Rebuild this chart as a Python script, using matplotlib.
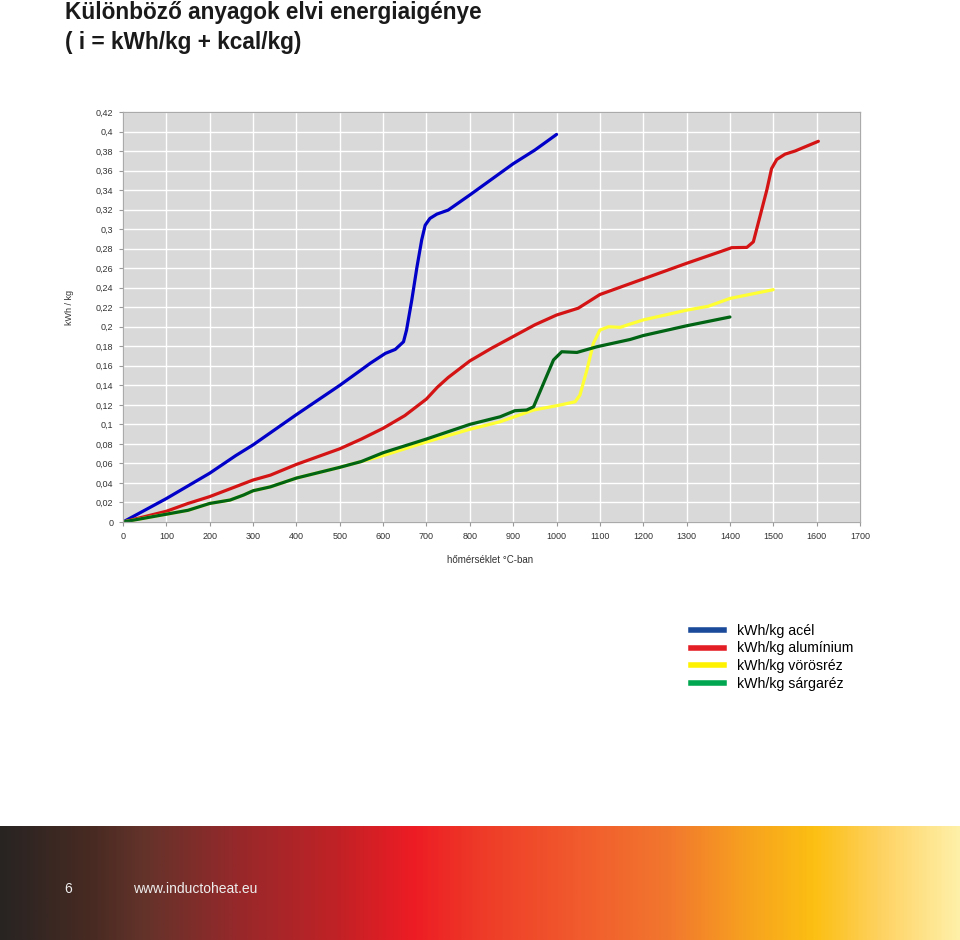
import matplotlib
matplotlib.use('Agg')
import matplotlib.pyplot as plt
import numpy as np
from matplotlib.colors import LinearSegmentedColormap
from matplotlib.lines import Line2D

plt.rcParams['font.family'] = ['Liberation Sans', 'DejaVu Sans']

# acél (steel)
acel_x = [0, 100, 200, 260, 300, 400, 500, 550, 570, 605, 628, 647, 654, 666, 678, 689, 697, 708, 724, 750, 800,
          850, 900, 950, 1000]
acel_y = [0, 0.024, 0.05, 0.068, 0.079, 0.11, 0.14, 0.156, 0.1625, 0.1727, 0.1768, 0.1846, 0.1966, 0.227, 0.261, 0.289,
          0.304, 0.311, 0.3154, 0.3195, 0.335, 0.351, 0.367, 0.381, 0.397]
# alumínium
alu_x = [0, 100, 150, 200, 300, 340, 400, 500, 550, 600, 650, 700, 725, 750, 800, 850, 900, 950, 1000, 1050, 1100,
         1200, 1300, 1377, 1404, 1439, 1454, 1469, 1485, 1496, 1508, 1527, 1550, 1604]
alu_y = [0, 0.011, 0.019, 0.026, 0.043, 0.048, 0.059, 0.075, 0.085, 0.096, 0.109, 0.126, 0.138, 0.148, 0.165, 0.178,
         0.19, 0.202, 0.212, 0.219, 0.233, 0.249, 0.265, 0.2768, 0.281, 0.2813, 0.287, 0.3126, 0.34, 0.362, 0.3714,
         0.3768, 0.380, 0.390]
# vörösréz (copper)
rez_x = [0, 100, 150, 200, 247, 278, 300, 340, 400, 500, 550, 600, 700, 800, 870, 947, 1008, 1043, 1054, 1070, 1085,
         1100, 1120, 1147, 1170, 1200, 1300, 1350, 1400, 1500]
rez_y = [0, 0.008, 0.012, 0.019, 0.0225, 0.0276, 0.032, 0.036, 0.045, 0.056, 0.062, 0.068, 0.082, 0.095, 0.1027,
         0.1147, 0.1198, 0.1232, 0.130, 0.1556, 0.183, 0.1966, 0.200, 0.1994, 0.2028, 0.207, 0.217, 0.221, 0.229, 0.238]
# sárgaréz (brass)
sarga_x = [0, 100, 150, 200, 247, 278, 300, 340, 400, 500, 550, 600, 700, 800, 870, 904, 931, 947, 970, 993, 1012,
           1047, 1093, 1170, 1200, 1300, 1400]
sarga_y = [0, 0.008, 0.012, 0.019, 0.0225, 0.0276, 0.032, 0.036, 0.045, 0.056, 0.062, 0.071, 0.085, 0.1, 0.1078,
           0.114, 0.1147, 0.118, 0.142, 0.166, 0.1744, 0.1737, 0.1795, 0.187, 0.191, 0.201, 0.21]

legend_labels = ['kWh/kg acél', 'kWh/kg alumínium', 'kWh/kg vörösréz', 'kWh/kg sárgaréz']
legend_colors = ['#1b4a9a', '#e31e24', '#fff200', '#00a650']

xticks = np.arange(0, 1701, 100)
yticks = np.arange(0, 0.4201, 0.02)

fig = plt.figure(figsize=(9.6, 9.4), dpi=100)
fig.patch.set_facecolor('white')

fig.text(65 / 960, 1 - 13 / 940, 'Különböző anyagok elvi energiaigénye', fontsize=16.3, fontweight='bold',
         color='#1a1a1a', va='center', ha='left')
fig.text(65 / 960, 1 - 43 / 940, '( i = kWh/kg + kcal/kg)', fontsize=16.3, fontweight='bold',
         color='#1a1a1a', va='center', ha='left')

ax = fig.add_axes([123 / 960, 1 - 522 / 940, (860 - 123) / 960, (522 - 112) / 940])
ax.set_facecolor('#d9d9d9')
style = dict(lw=2.3, solid_capstyle='round', solid_joinstyle='round')
ax.plot(acel_x, acel_y, color='#0000c8', **style)
ax.plot(alu_x, alu_y, color='#d41414', **style)
ax.plot(rez_x, rez_y, color='#ffff33', **style)
ax.plot(sarga_x, sarga_y, color='#006414', **style)

ax.set_xlim(0, 1700)
ax.set_ylim(0, 0.42)
ax.set_xticks(xticks)
ax.set_yticks(yticks)
ax.set_xticklabels([str(v) for v in xticks])
ax.set_yticklabels([('%g' % round(v, 2)).replace('.', ',') for v in yticks])
ax.grid(True, color='white', lw=1.0)
ax.set_axisbelow(True)
ax.tick_params(labelsize=6.5, colors='#999999', labelcolor='#333333', length=3, width=0.8, pad=4)
for s in ax.spines.values():
    s.set_color('#aaaaaa')
    s.set_linewidth(0.9)

fig.text(70 / 960, 1 - 307 / 940, 'kWh / kg', fontsize=6.5, color='#333333', rotation=90, va='center', ha='center')
fig.text(490 / 960, 1 - 560 / 940, 'hőmérséklet °C-ban', fontsize=7, color='#333333', va='center', ha='center')

handles = [Line2D([], [], color=c, lw=4) for c in legend_colors]
fig.legend(handles, legend_labels, loc='upper left', bbox_to_anchor=(685 / 960, 1 - 618 / 940), frameon=False,
           fontsize=10.2, handlelength=2.35, handletextpad=0.95, labelspacing=0.27, borderaxespad=0)

# gradient footer band
stops = [(0.0, '#282422'), (0.1, '#4a2b23'), (0.15, '#64332a'), (0.25, '#98282a'), (0.35, '#c02226'),
         (0.43, '#ed1c24'), (0.5, '#ee3a28'), (0.6, '#f15a2d'), (0.7, '#f2782e'), (0.78, '#f7a21f'),
         (0.85, '#fcbf12'), (0.92, '#fed262'), (1.0, '#fff0a8')]
cmap = LinearSegmentedColormap.from_list('band', stops)
bax = fig.add_axes([0, 0, 1, (940 - 826) / 940])
bax.imshow(np.linspace(0, 1, 512).reshape(1, -1), aspect='auto', cmap=cmap, extent=[0, 1, 0, 1])
bax.set_axis_off()
fig.text(68 / 960, 1 - 889 / 940, '6', fontsize=10, color='#eeeeee', va='center', ha='center')
fig.text(133 / 960, 1 - 889 / 940, 'www.inductoheat.eu', fontsize=10, color='#eeeeee', va='center', ha='left')

fig.savefig('out.png', dpi=100)
